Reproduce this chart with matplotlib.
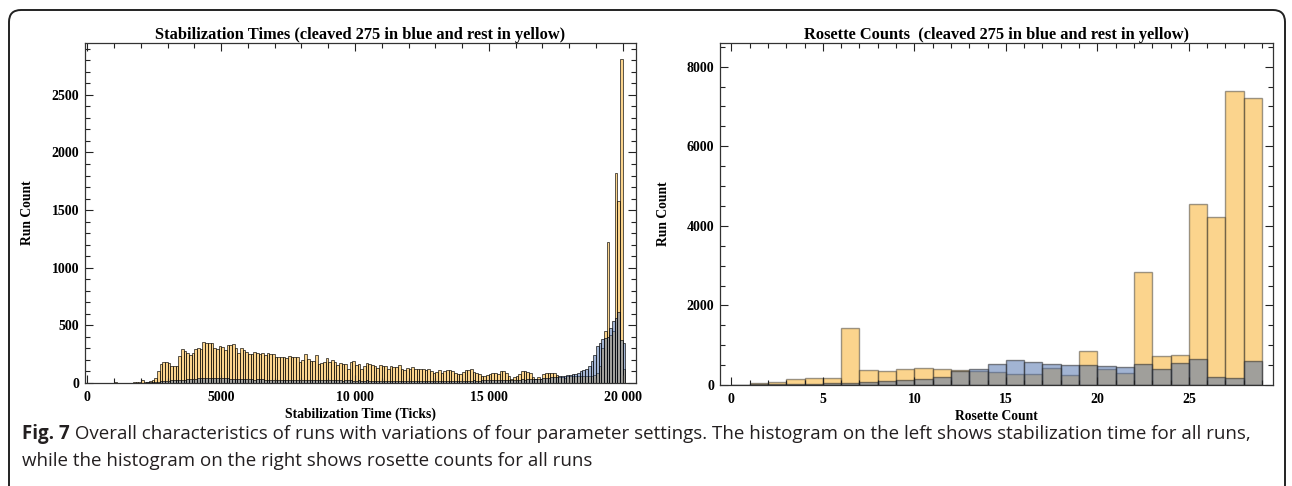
import matplotlib
matplotlib.use("Agg")
import matplotlib.pyplot as plt
import numpy as np
from matplotlib.patches import FancyBboxPatch
from matplotlib.transforms import IdentityTransform
from matplotlib.ticker import MultipleLocator, FuncFormatter

# ---------------- data ----------------
stab_bin_width = 100
# runs per 100-tick bin, bins starting at 0, 100, ..., 20000
stab_rest = [
    0, 0, 0, 0, 0, 3, 0, 0, 0, 0,
    10, 0, 0, 3, 0, 4, 3, 5, 5, 12,
    23, 8, 12, 18, 30, 40, 101, 166, 185, 180,
    174, 150, 145, 150, 234, 295, 275, 263, 243, 257,
    292, 301, 295, 356, 344, 347, 344, 301, 295, 324,
    315, 286, 333, 327, 342, 304, 264, 304, 284, 270,
    255, 255, 270, 264, 255, 264, 246, 260, 255, 250,
    226, 223, 226, 226, 220, 232, 226, 226, 226, 183,
    203, 250, 212, 188, 190, 241, 168, 177, 183, 217,
    183, 197, 183, 159, 174, 168, 168, 124, 183, 188,
    153, 168, 124, 145, 177, 165, 159, 150, 130, 153,
    150, 145, 124, 145, 139, 139, 153, 124, 116, 130,
    124, 139, 124, 124, 118, 124, 116, 121, 104, 87,
    96, 110, 87, 104, 110, 116, 101, 87, 75, 75,
    96, 116, 116, 118, 96, 87, 75, 58, 58, 67,
    81, 90, 90, 81, 101, 101, 87, 58, 38, 52,
    58, 75, 101, 101, 96, 87, 52, 38, 52, 38,
    81, 87, 87, 87, 87, 67, 52, 52, 46, 60,
    62, 58, 65, 60, 62, 58, 60, 65, 62, 70,
    90, 150, 300, 449, 1220, 420, 450, 1823, 1577, 2807,
    120,
]
stab_cleaved = [
    0, 0, 0, 0, 0, 0, 0, 0, 0, 0,
    0, 0, 0, 0, 0, 0, 0, 0, 0, 2,
    3, 3, 5, 5, 8, 10, 12, 15, 18, 20,
    20, 22, 22, 25, 28, 30, 30, 32, 35, 35,
    38, 40, 40, 42, 45, 47, 45, 44, 42, 40,
    42, 43, 40, 38, 36, 35, 36, 35, 34, 33,
    34, 32, 30, 32, 33, 31, 30, 30, 29, 28,
    30, 28, 27, 28, 30, 28, 26, 27, 28, 25,
    26, 27, 28, 26, 25, 24, 26, 25, 24, 23,
    24, 22, 23, 24, 22, 21, 23, 22, 24, 21,
    20, 22, 21, 20, 22, 20, 19, 21, 20, 19,
    20, 18, 19, 20, 18, 17, 19, 18, 17, 18,
    17, 18, 16, 17, 18, 16, 17, 16, 18, 17,
    16, 17, 18, 16, 17, 18, 19, 17, 18, 19,
    20, 19, 21, 20, 22, 21, 20, 22, 23, 22,
    24, 23, 25, 24, 26, 25, 27, 26, 28, 27,
    29, 30, 31, 30, 32, 33, 35, 34, 36, 38,
    40, 42, 45, 48, 50, 55, 58, 60, 62, 67,
    70, 75, 80, 90, 104, 112, 125, 150, 190, 240,
    320, 350, 380, 390, 400, 474, 535, 560, 616, 370,
    350,
]

rosette_bin_edges = list(range(0, 30))
rosette_rest = [0, 42, 84, 160, 185, 168, 1445, 370, 361, 412,
                428, 412, 377, 360, 319, 269, 269, 420, 244, 849,
                394, 310, 2850, 723, 748, 4550, 4230, 7390, 7225]
rosette_cleaved = [0, 15, 15, 25, 30, 50, 40, 67, 92, 126,
                   143, 200, 352, 402, 521, 622, 571, 520, 496, 496,
                   477, 460, 521, 403, 546, 664, 210, 176, 597]

title_left = "Stabilization Times (cleaved 275 in blue and rest in yellow)"
title_right = "Rosette Counts  (cleaved 275 in blue and rest in yellow)"
xlabel_left = "Stabilization Time (Ticks)"
xlabel_right = "Rosette Count"
ylabel = "Run Count"
caption_bold = "Fig. 7"
caption_line1 = (" Overall characteristics of runs with variations of four parameter settings. "
                 "The histogram on the left shows stabilization time for all runs,")
caption_line2 = "while the histogram on the right shows rosette counts for all runs"

# ---------------- style ----------------
W, H = 1292, 486
YEL = (0.976, 0.67, 0.114)
BLU = (0.278, 0.42, 0.663)
FACE_A = 0.5
SERIF = ["Liberation Serif", "DejaVu Serif"]

plt.rcParams["font.family"] = SERIF
plt.rcParams["font.weight"] = "bold"

fig = plt.figure(figsize=(W / 100, H / 100), dpi=100)


def px_axes(x0, y0, x1, y1):
    return fig.add_axes([x0 / W, 1 - y1 / H, (x1 - x0) / W, (y1 - y0) / H])


ax1 = px_axes(85, 43, 636, 383)
ax2 = px_axes(720, 43, 1273, 385)

# left histogram
edges = np.arange(len(stab_rest) + 1) * stab_bin_width
ax1.bar(edges[:-1], stab_rest, width=stab_bin_width, align="edge",
        facecolor=(*YEL, FACE_A), edgecolor=(0, 0, 0, 0.75), linewidth=0.6)
ax1.bar(edges[:-1], stab_cleaved, width=stab_bin_width, align="edge",
        facecolor=(*BLU, FACE_A), edgecolor=(0, 0, 0, 0.75), linewidth=0.6)
ax1.set_xlim(-90, 20500)
ax1.set_ylim(0, 2950)

# right histogram
redges = np.array(rosette_bin_edges)
ax2.bar(redges[:-1], rosette_rest, width=1, align="edge",
        facecolor=(*YEL, FACE_A), edgecolor=(0.15, 0.15, 0.15, 0.45), linewidth=1.0)
ax2.bar(redges[:-1], rosette_cleaved, width=1, align="edge",
        facecolor=(*BLU, FACE_A), edgecolor=(0.15, 0.15, 0.15, 0.55), linewidth=1.0)
ax2.set_xlim(-0.62, 29.6)
ax2.set_ylim(0, 8595)


def thou(v, pos):
    v = int(round(v))
    if v >= 10000:
        return f"{v:,}".replace(",", " ")
    return str(v)


for ax, xmaj, xmin, ymaj, ymin in [(ax1, 5000, 1000, 500, 100), (ax2, 5, 1, 2000, 500)]:
    ax.xaxis.set_major_locator(MultipleLocator(xmaj))
    ax.xaxis.set_minor_locator(MultipleLocator(xmin))
    ax.yaxis.set_major_locator(MultipleLocator(ymaj))
    ax.yaxis.set_minor_locator(MultipleLocator(ymin))
    ax.xaxis.set_major_formatter(FuncFormatter(thou))
    ax.tick_params(which="both", direction="in", top=True, right=True,
                   color="#222222", width=0.8, labelsize=10)
    ax.tick_params(which="major", length=6)
    ax.tick_params(which="minor", length=3.5)
    ax.tick_params(axis="x", pad=6)
    ax.tick_params(axis="y", pad=4)
    for s in ax.spines.values():
        s.set_color("#333333")
        s.set_linewidth(0.9)
    for lab in ax.get_xticklabels() + ax.get_yticklabels():
        lab.set_fontweight("bold")

ax1.set_title(title_left, fontsize=11.8, fontweight="bold", pad=3)
ax2.set_title(title_right, fontsize=11.8, fontweight="bold", pad=3)
ax1.set_xlabel(xlabel_left, fontsize=9.8, fontweight="bold")
ax2.set_xlabel(xlabel_right, fontsize=9.8, fontweight="bold")
ax1.set_ylabel(ylabel, fontsize=9.8, fontweight="bold")
ax2.set_ylabel(ylabel, fontsize=9.8, fontweight="bold")
ax1.xaxis.set_label_coords(0.5, -(408 - 383) / 340)
ax2.xaxis.set_label_coords(0.5, -(410 - 385) / 342)
ax1.yaxis.set_label_coords((34 - 85) / 551, 0.5)
ax2.yaxis.set_label_coords((670 - 720) / 553, 0.5)

# outer rounded frame (bottom runs off the image)
box = FancyBboxPatch((9, -30), 1276, (H - 10) + 30,
                     boxstyle="round,pad=0,rounding_size=12",
                     transform=IdentityTransform(), facecolor="none",
                     edgecolor="#222222", linewidth=1.4, zorder=0)
fig.patches.append(box)

# caption
CAP_FONT = ["Open Sans", "DejaVu Sans"]
cap_color = "#231f20"
fs = 13.5
fig.canvas.draw()
r = fig.canvas.get_renderer()
t_bold = fig.text(22 / W, 1 - 434 / H, caption_bold, fontsize=fs, fontweight="bold",
                  family=CAP_FONT, color=cap_color, va="center", ha="left")
bb = t_bold.get_window_extent(r)
fig.text(bb.x1 / W, 1 - 434 / H, caption_line1, fontsize=fs, fontweight="normal",
         family=CAP_FONT, color=cap_color, va="center", ha="left")
fig.text(22 / W, 1 - 461 / H, caption_line2, fontsize=fs, fontweight="normal",
         family=CAP_FONT, color=cap_color, va="center", ha="left")

fig.savefig("out.png", dpi=100)
